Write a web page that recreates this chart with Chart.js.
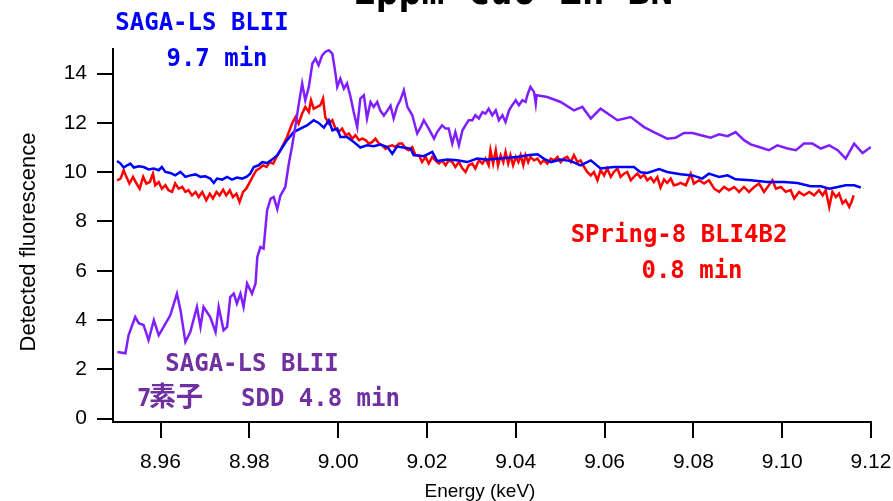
<!DOCTYPE html>
<html><head><meta charset="utf-8">
<script src="https://cdn.jsdelivr.net/npm/chart.js@4"></script>
<style>html,body{margin:0;padding:0;background:#fff;overflow:hidden}canvas{display:block}</style>
</head><body>
<canvas id="c" width="893" height="501" style="width:893px;height:501px"></canvas>
<script>
// Energy (keV), detected fluorescence
const purpleSeries = [[8.9503,2.70],[8.9521,2.65],[8.9528,3.38],[8.9543,4.12],[8.9551,3.87],[8.9562,3.79],[8.9573,3.18],[8.9585,3.99],[8.9596,3.38],[8.9607,3.72],[8.9622,4.19],[8.9637,5.07],[8.9645,4.40],[8.9656,3.11],[8.9667,3.51],[8.9682,4.53],[8.9690,3.72],[8.9697,4.53],[8.9712,4.12],[8.9724,3.51],[8.9731,4.53],[8.9742,3.58],[8.9750,3.72],[8.9757,4.93],[8.9765,5.07],[8.9772,4.67],[8.9780,5.07],[8.9787,4.53],[8.9795,5.48],[8.9806,5.07],[8.9814,5.48],[8.9818,6.56],[8.9825,6.96],[8.9832,6.90],[8.9840,8.45],[8.9848,8.93],[8.9855,8.99],[8.9863,8.50],[8.9870,9.05],[8.9881,9.40],[8.9889,10.35],[8.9896,11.02],[8.9904,11.90],[8.9911,12.72],[8.9919,13.60],[8.9926,12.92],[8.9934,13.46],[8.9942,14.41],[8.9949,14.61],[8.9956,14.34],[8.9964,14.74],[8.9971,14.88],[8.9979,14.95],[8.9987,14.81],[8.9994,14.00],[8.9998,13.46],[9.0005,13.80],[9.0013,13.39],[9.0020,13.60],[9.0028,13.05],[9.0035,12.44],[9.0043,11.83],[9.0050,12.99],[9.0058,13.12],[9.0065,12.18],[9.0073,12.85],[9.0080,12.65],[9.0088,12.85],[9.0095,12.50],[9.0103,12.30],[9.0111,12.50],[9.0118,12.70],[9.0125,12.18],[9.0133,12.68],[9.0140,12.92],[9.0148,13.32],[9.0156,12.65],[9.0167,12.31],[9.0178,11.57],[9.0186,11.83],[9.0193,12.11],[9.0204,11.77],[9.0216,11.36],[9.0223,11.63],[9.0234,11.90],[9.0242,11.77],[9.0249,11.77],[9.0257,11.16],[9.0264,11.63],[9.0272,11.09],[9.0280,11.70],[9.0287,11.91],[9.0294,12.11],[9.0302,12.11],[9.0309,12.31],[9.0317,12.18],[9.0325,12.44],[9.0332,12.38],[9.0339,12.58],[9.0347,12.31],[9.0355,12.51],[9.0362,12.11],[9.0370,12.31],[9.0377,12.04],[9.0385,12.51],[9.0392,12.72],[9.0400,12.92],[9.0407,12.72],[9.0415,12.92],[9.0422,12.85],[9.0426,13.12],[9.0433,13.46],[9.0441,13.26],[9.0445,12.78],[9.0447,13.12],[9.0471,13.05],[9.0501,12.85],[9.0531,12.51],[9.0550,12.65],[9.0569,12.18],[9.0591,12.58],[9.0629,12.11],[9.0659,12.24],[9.0689,11.83],[9.0711,11.63],[9.0741,11.36],[9.0760,11.40],[9.0779,11.59],[9.0798,11.59],[9.0817,11.50],[9.0839,11.40],[9.0858,11.54],[9.0877,11.46],[9.0895,11.63],[9.0914,11.30],[9.0929,11.13],[9.0948,11.02],[9.0970,10.89],[9.0989,11.09],[9.1012,10.96],[9.1031,10.89],[9.1049,11.16],[9.1068,11.16],[9.1087,10.96],[9.1106,11.09],[9.1125,10.89],[9.1143,10.55],[9.1162,11.16],[9.1181,10.78],[9.1200,11.02]];

const blueSeries = [[8.9502,10.45],[8.9510,10.35],[8.9517,10.19],[8.9525,10.28],[8.9532,10.35],[8.9540,10.19],[8.9551,10.24],[8.9562,10.21],[8.9573,10.11],[8.9585,10.15],[8.9596,10.08],[8.9603,10.21],[8.9611,10.01],[8.9622,9.97],[8.9633,9.87],[8.9645,10.01],[8.9656,9.81],[8.9667,9.87],[8.9679,9.91],[8.9690,9.81],[8.9701,9.83],[8.9712,9.74],[8.9720,9.56],[8.9727,9.74],[8.9739,9.70],[8.9750,9.81],[8.9761,9.70],[8.9772,9.78],[8.9784,9.74],[8.9795,9.83],[8.9802,9.94],[8.9810,10.21],[8.9821,10.28],[8.9829,10.41],[8.9840,10.37],[8.9851,10.51],[8.9863,10.69],[8.9870,10.89],[8.9885,11.30],[8.9900,11.63],[8.9915,11.77],[8.9930,11.90],[8.9945,12.11],[8.9956,12.00],[8.9968,11.81],[8.9979,12.11],[8.9987,11.70],[8.9998,11.77],[9.0005,11.43],[9.0020,11.43],[9.0035,11.23],[9.0050,11.00],[9.0065,11.09],[9.0080,11.05],[9.0095,11.12],[9.0111,11.02],[9.0122,10.75],[9.0133,11.05],[9.0140,11.02],[9.0163,10.96],[9.0170,10.69],[9.0193,10.65],[9.0212,10.82],[9.0223,10.45],[9.0246,10.51],[9.0268,10.48],[9.0291,10.41],[9.0313,10.55],[9.0336,10.51],[9.0358,10.55],[9.0381,10.59],[9.0403,10.62],[9.0426,10.69],[9.0449,10.73],[9.0463,10.55],[9.0479,10.41],[9.0501,10.51],[9.0524,10.45],[9.0546,10.28],[9.0569,10.48],[9.0591,10.15],[9.0621,10.21],[9.0666,10.21],[9.0681,10.00],[9.0696,9.97],[9.0723,10.13],[9.0741,10.01],[9.0771,9.92],[9.0798,9.87],[9.0820,9.74],[9.0835,9.94],[9.0858,9.81],[9.0877,9.87],[9.0895,9.71],[9.0929,9.67],[9.0967,9.60],[9.1004,9.60],[9.1034,9.56],[9.1064,9.43],[9.1087,9.43],[9.1106,9.33],[9.1125,9.40],[9.1143,9.47],[9.1162,9.47],[9.1177,9.38]];

const redSeries = [[8.9502,9.67],[8.9510,9.74],[8.9517,10.08],[8.9523,9.81],[8.9530,9.54],[8.9538,9.81],[8.9546,9.54],[8.9553,9.33],[8.9561,9.81],[8.9568,9.54],[8.9576,9.60],[8.9583,9.94],[8.9588,9.47],[8.9596,9.60],[8.9603,9.33],[8.9611,9.47],[8.9618,9.27],[8.9626,9.20],[8.9633,9.54],[8.9641,9.33],[8.9649,9.40],[8.9656,9.20],[8.9663,9.27],[8.9671,9.06],[8.9679,9.20],[8.9686,8.99],[8.9694,9.20],[8.9703,8.86],[8.9711,9.13],[8.9718,8.93],[8.9726,9.20],[8.9733,9.06],[8.9741,9.29],[8.9748,9.06],[8.9756,9.27],[8.9763,8.99],[8.9771,9.13],[8.9778,8.79],[8.9786,9.20],[8.9793,9.33],[8.9801,9.60],[8.9809,9.87],[8.9816,10.08],[8.9823,10.15],[8.9831,10.28],[8.9839,10.21],[8.9846,10.41],[8.9854,10.35],[8.9861,10.62],[8.9868,10.82],[8.9885,11.43],[8.9896,11.97],[8.9904,12.24],[8.9911,11.97],[8.9919,12.38],[8.9926,12.65],[8.9934,12.44],[8.9939,12.92],[8.9945,12.58],[8.9953,12.65],[8.9960,12.72],[8.9966,12.99],[8.9971,12.24],[8.9979,11.98],[8.9987,12.11],[8.9994,11.77],[9.0001,11.63],[9.0009,11.77],[9.0017,11.50],[9.0024,11.57],[9.0032,11.36],[9.0039,11.50],[9.0047,11.30],[9.0054,11.36],[9.0062,11.30],[9.0069,11.16],[9.0077,11.23],[9.0084,11.36],[9.0092,11.16],[9.0099,11.09],[9.0107,10.95],[9.0114,11.05],[9.0122,11.09],[9.0129,11.02],[9.0137,11.16],[9.0144,11.16],[9.0152,10.96],[9.0159,10.89],[9.0167,11.02],[9.0174,10.69],[9.0182,10.69],[9.0189,10.41],[9.0197,10.62],[9.0204,10.35],[9.0212,10.62],[9.0219,10.48],[9.0227,10.35],[9.0234,10.48],[9.0242,10.28],[9.0249,10.48],[9.0257,10.41],[9.0264,10.21],[9.0272,10.41],[9.0280,10.15],[9.0287,10.01],[9.0294,10.28],[9.0302,10.35],[9.0309,10.15],[9.0317,10.48],[9.0325,10.35],[9.0332,10.55],[9.0339,10.28],[9.0343,10.89],[9.0349,10.35],[9.0355,10.89],[9.0360,10.28],[9.0366,10.69],[9.0372,10.41],[9.0377,10.82],[9.0383,10.35],[9.0388,10.69],[9.0394,10.28],[9.0400,10.62],[9.0406,10.41],[9.0411,10.69],[9.0417,10.28],[9.0422,10.69],[9.0428,10.41],[9.0433,10.62],[9.0441,10.48],[9.0449,10.55],[9.0456,10.35],[9.0463,10.48],[9.0471,10.35],[9.0479,10.55],[9.0486,10.48],[9.0494,10.62],[9.0501,10.41],[9.0508,10.55],[9.0516,10.62],[9.0524,10.41],[9.0531,10.69],[9.0539,10.41],[9.0546,10.48],[9.0554,10.21],[9.0561,10.01],[9.0569,9.87],[9.0576,10.01],[9.0584,9.67],[9.0591,10.08],[9.0599,9.87],[9.0606,10.15],[9.0614,9.81],[9.0621,10.01],[9.0629,10.15],[9.0636,9.81],[9.0644,9.94],[9.0651,10.01],[9.0659,9.67],[9.0666,9.81],[9.0674,9.94],[9.0681,9.78],[9.0689,9.90],[9.0696,9.67],[9.0704,9.78],[9.0711,9.60],[9.0719,9.80],[9.0726,9.37],[9.0734,9.70],[9.0741,9.57],[9.0749,9.74],[9.0756,9.47],[9.0764,9.50],[9.0771,9.57],[9.0783,9.47],[9.0794,9.94],[9.0801,9.54],[9.0813,9.67],[9.0824,9.54],[9.0835,9.67],[9.0847,9.33],[9.0858,9.20],[9.0869,9.40],[9.0880,9.27],[9.0892,9.40],[9.0903,9.20],[9.0914,9.40],[9.0925,9.20],[9.0937,9.40],[9.0948,9.54],[9.0959,9.20],[9.0970,9.47],[9.0978,9.67],[9.0986,9.33],[9.0997,9.40],[9.1008,9.20],[9.1019,9.27],[9.1027,8.93],[9.1038,9.20],[9.1049,9.06],[9.1061,9.20],[9.1072,9.06],[9.1083,9.27],[9.1091,9.06],[9.1098,9.27],[9.1106,8.59],[9.1113,9.20],[9.1121,8.99],[9.1128,9.13],[9.1136,8.73],[9.1143,8.86],[9.1151,8.59],[9.1156,8.79],[9.1161,9.06]];

const xTickValues = [8.96, 8.98, 9.00, 9.02, 9.04, 9.06, 9.08, 9.10, 9.12];
const yTickValues = [0, 2, 4, 6, 8, 10, 12, 14];

const toXY = arr => arr.map(p => ({x: p[0], y: p[1]}));

const tickFont = {family: "'Liberation Sans', Arial, sans-serif", size: 21};
const monoBold = "bold 24px 'DejaVu Sans Mono', monospace";

const textPlugin = {
  id: 'texts',
  afterDraw(chart) {
    const ctx = chart.ctx;
    ctx.save();
    // Main title (mostly cut off at top)
    ctx.fillStyle = '#000';
    ctx.font = "bold 38px 'DejaVu Sans Mono', monospace";
    ctx.textAlign = 'center';
    ctx.textBaseline = 'alphabetic';
    ctx.fillText('1ppm CuO in BN', 513, 4);
    // Axis titles
    ctx.font = "19px 'Liberation Sans', Arial, sans-serif";
    ctx.fillText('Energy (keV)', 480, 497);
    ctx.save();
    ctx.translate(35, 242);
    ctx.rotate(-Math.PI / 2);
    ctx.font = "22px 'Liberation Sans', Arial, sans-serif";
    ctx.fillText('Detected fluorescence', 0, 0);
    ctx.restore();
    // Annotations
    ctx.font = monoBold;
    ctx.fillStyle = '#0000ff';
    ctx.fillText('SAGA-LS BLII', 202, 30);
    ctx.fillText('9.7 min', 217, 66);
    ctx.fillStyle = '#ff0000';
    ctx.fillText('SPring-8 BLI4B2', 679, 242);
    ctx.fillText('0.8 min', 692, 278);
    ctx.fillStyle = '#7030a0';
    ctx.fillText('SAGA-LS BLII', 252, 371);
    ctx.textAlign = 'left';
    ctx.fillText('7', 137, 406);
    ctx.font = "bold 27px 'Noto Sans CJK JP', sans-serif";
    ctx.fillText('素子', 149, 406);
    ctx.font = monoBold;
    ctx.fillText('SDD 4.8 min', 241, 406);
    ctx.restore();
  }
};

new Chart(document.getElementById('c'), {
  type: 'line',
  data: {
    datasets: [
      {label: 'SAGA-LS BLII 7素子 SDD 4.8 min', data: toXY(purpleSeries), borderColor: '#7f1fff', borderWidth: 2.5},
      {label: 'SAGA-LS BLII 9.7 min', data: toXY(blueSeries), borderColor: '#0000ff', borderWidth: 2.5},
      {label: 'SPring-8 BLI4B2 0.8 min', data: toXY(redSeries), borderColor: '#ff0000', borderWidth: 2.5}
    ]
  },
  options: {
    responsive: false,
    animation: false,
    devicePixelRatio: 1,
    layout: {padding: {top: 49, right: 22, left: 0, bottom: 0}},
    elements: {point: {radius: 0}, line: {tension: 0, fill: false}},
    plugins: {legend: {display: false}, tooltip: {enabled: false}, title: {display: false}},
    scales: {
      x: {
        type: 'linear', min: 8.9493, max: 9.12,
        afterBuildTicks: s => { s.ticks = xTickValues.map(v => ({value: v})); },
        afterFit: s => { s.height = 79; s.paddingLeft = 0; s.paddingRight = 0; },
        grid: {drawOnChartArea: false, drawTicks: true, tickLength: 16, color: '#000', lineWidth: 2},
        border: {display: true, color: '#000', width: 2},
        ticks: {color: '#000', font: tickFont, padding: 12, maxRotation: 0, autoSkip: false,
                callback: v => Number(v).toFixed(2)}
      },
      y: {
        type: 'linear', min: -0.14, max: 15.0,
        afterBuildTicks: s => { s.ticks = yTickValues.map(v => ({value: v})); },
        afterFit: s => { s.width = 113; s.paddingTop = 0; s.paddingBottom = 0; },
        grid: {drawOnChartArea: false, drawTicks: true, tickLength: 16, color: '#000', lineWidth: 2},
        border: {display: true, color: '#000', width: 2},
        ticks: {color: '#000', font: tickFont, padding: 10, autoSkip: false,
                callback: v => String(v)}
      }
    }
  },
  plugins: [textPlugin]
});
</script></body></html>
